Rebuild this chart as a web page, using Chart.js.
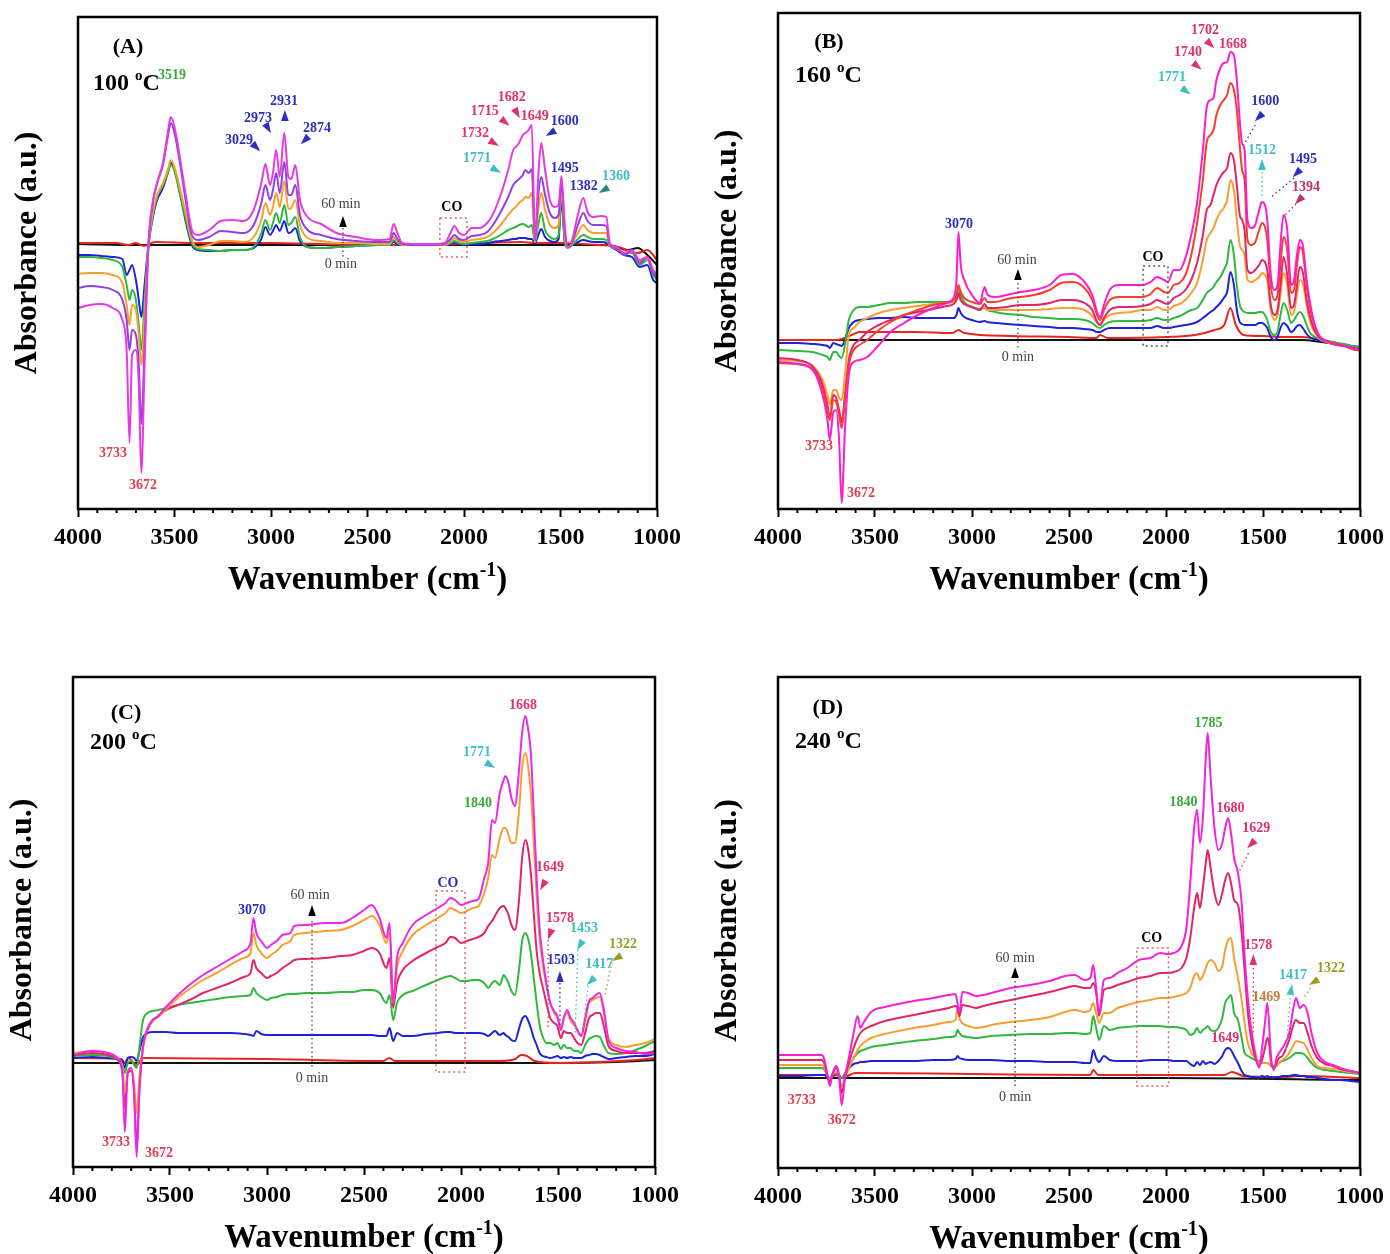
<!DOCTYPE html>
<html>
<head>
<meta charset="utf-8">
<script src="https://cdn.jsdelivr.net/npm/chart.js@4.4.1/dist/chart.umd.min.js"></script>
<style>
  html, body { margin: 0; padding: 0; background: #fff; }
  #wrap { position: relative; width: 1390px; height: 1254px; }
  canvas { position: absolute; }
</style>
</head>
<body>
<div id="wrap">
  <canvas id="cA" width="695" height="627" style="left:0;top:0"></canvas>
  <canvas id="cB" width="695" height="627" style="left:695px;top:0"></canvas>
  <canvas id="cC" width="695" height="627" style="left:0;top:627px"></canvas>
  <canvas id="cD" width="695" height="627" style="left:695px;top:627px"></canvas>
</div>
<script>
// ---------- panel A : 100 C ----------
const wnA = [4000,3940,3880,3820,3770,3748,3733,3720,3700,3685,
  3672,3655,3635,3610,3590,3560,3535,3519,3500,3470,
  3440,3410,3380,3320,3260,3200,3140,3090,3050,3029,
  3005,2990,2973,2955,2931,2910,2895,2874,2850,2810,
  2740,2660,2560,2450,2385,2365,2345,2320,2250,2150,
  2100,2070,2050,2025,2000,1960,1920,1880,1850,1810,
  1771,1745,1732,1715,1695,1682,1665,1649,1632,1615,
  1600,1580,1555,1530,1510,1495,1478,1462,1440,1410,
  1382,1360,1330,1290,1262,1245,1210,1170,1130,1090,
  1050,1020,1000];
const magentaA = [-0.63,-0.60,-0.59,-0.63,-0.75,-1.05,-1.98,-1.10,-1.05,-1.40,
  -2.28,-1.20,0.00,0.45,0.62,0.82,1.12,1.28,1.18,0.85,
  0.48,0.15,0.10,0.15,0.24,0.25,0.24,0.35,0.62,0.81,
  0.60,0.72,0.95,0.68,1.12,0.68,0.66,0.80,0.45,0.28,
  0.21,0.12,0.08,0.05,0.06,0.21,0.12,0.02,0.01,0.01,
  0.02,0.12,0.19,0.12,0.10,0.17,0.17,0.22,0.31,0.50,
  0.75,0.95,0.98,1.02,1.10,1.12,1.15,1.20,0.05,0.70,
  1.02,0.75,0.45,0.38,0.40,0.69,0.20,-0.02,0.05,0.30,
  0.47,0.33,0.28,0.29,0.28,0.02,-0.02,-0.08,-0.05,-0.15,
  -0.12,-0.25,-0.30];
const purpleA = [-0.43,-0.41,-0.42,-0.45,-0.55,-0.75,-1.05,-0.85,-0.90,-1.20,
  -1.79,-1.00,0.00,0.45,0.62,0.80,1.08,1.22,1.12,0.80,
  0.42,0.10,0.05,0.08,0.14,0.13,0.12,0.20,0.42,0.60,
  0.45,0.55,0.72,0.52,0.83,0.50,0.50,0.60,0.30,0.15,
  0.10,0.06,0.04,0.03,0.03,0.12,0.06,0.01,0.00,0.00,
  0.01,0.06,0.10,0.06,0.05,0.09,0.10,0.13,0.20,0.33,
  0.48,0.60,0.63,0.66,0.70,0.75,0.72,0.76,0.05,0.50,
  0.68,0.50,0.32,0.27,0.30,0.62,0.15,-0.02,0.03,0.20,
  0.32,0.24,0.20,0.20,0.19,0.00,-0.03,-0.10,-0.06,-0.18,
  -0.12,-0.28,-0.32];
const orangeA = [-0.29,-0.28,-0.28,-0.30,-0.38,-0.60,-0.80,-0.60,-0.65,-0.90,
  -1.20,-0.70,0.00,0.35,0.50,0.62,0.75,0.85,0.78,0.55,
  0.30,0.05,-0.02,0.00,0.04,0.04,0.03,0.08,0.25,0.42,
  0.30,0.38,0.52,0.38,0.64,0.36,0.37,0.45,0.20,0.07,
  0.04,0.02,0.02,0.01,0.01,0.08,0.04,0.00,0.00,0.00,
  0.00,0.04,0.07,0.04,0.03,0.05,0.06,0.08,0.12,0.20,
  0.30,0.36,0.38,0.42,0.45,0.48,0.47,0.52,0.03,0.35,
  0.52,0.35,0.20,0.17,0.20,0.55,0.10,-0.03,0.02,0.12,
  0.20,0.15,0.12,0.12,0.12,-0.01,-0.03,-0.09,-0.07,-0.16,
  -0.14,-0.26,-0.30];
const greenA = [-0.12,-0.12,-0.13,-0.15,-0.22,-0.40,-0.55,-0.45,-0.55,-0.80,
  -1.05,-0.55,0.00,0.32,0.48,0.60,0.72,0.80,0.74,0.50,
  0.25,0.02,-0.04,-0.05,-0.06,-0.05,-0.05,-0.02,0.12,0.25,
  0.15,0.22,0.32,0.22,0.40,0.20,0.22,0.28,0.08,-0.02,
  -0.03,-0.02,-0.01,0.00,0.00,0.05,0.02,0.00,0.00,0.00,
  0.00,0.02,0.04,0.02,0.01,0.02,0.03,0.04,0.06,0.10,
  0.15,0.17,0.18,0.20,0.21,0.20,0.18,0.20,0.03,0.20,
  0.32,0.15,0.08,0.06,0.10,0.55,0.05,-0.03,0.00,0.06,
  0.10,0.08,0.06,0.06,0.05,-0.01,-0.04,-0.08,-0.08,-0.20,
  -0.15,-0.30,-0.35];
const blueA = [-0.10,-0.10,-0.11,-0.12,-0.14,-0.30,-0.25,-0.20,-0.35,-0.55,
  -0.72,-0.40,0.00,0.30,0.45,0.57,0.72,0.82,0.75,0.50,
  0.22,0.00,-0.05,-0.06,-0.06,-0.05,-0.05,-0.03,0.06,0.18,
  0.10,0.14,0.20,0.14,0.24,0.12,0.13,0.17,0.04,-0.02,
  -0.03,-0.02,-0.01,0.00,0.00,0.03,0.01,0.00,0.00,0.00,
  0.00,0.01,0.02,0.01,0.00,0.01,0.01,0.02,0.03,0.04,
  0.05,0.06,0.06,0.07,0.07,0.07,0.06,0.06,0.02,0.10,
  0.16,0.08,0.04,0.03,0.06,0.45,0.03,-0.02,0.00,0.03,
  0.05,0.04,0.03,0.03,0.02,-0.01,-0.05,-0.10,-0.12,-0.22,
  -0.20,-0.35,-0.38];
const wnRedA = [4000,3800,3740,3700,3660,3600,3400,3000,2500,2000,1700,1640,1500,1300,1200,1100,1050,1000];
const redA = [0.02,0.02,0.00,0.02,-0.01,0.03,0.02,0.02,0.00,0.01,0.03,0.02,0.02,0.00,-0.02,-0.08,-0.05,-0.15];
const wnBlackA = [4000,3700,3500,3000,2500,2000,1500,1250,1150,1100,1050,1000];
const blackA = [0.01,0.00,0.00,0.00,0.00,0.00,0.00,0.00,-0.05,-0.03,-0.10,-0.20];

// ---------- panel B : 160 C ----------
const wnB = [4000,3900,3820,3770,3745,3733,3715,3700,3685,3672,
  3655,3635,3610,3580,3540,3480,3420,3350,3280,3200,
  3130,3095,3080,3070,3058,3040,3000,2960,2935,2920,
  2880,2820,2750,2680,2600,2540,2480,2420,2380,2355,
  2340,2320,2290,2240,2180,2120,2080,2046,2010,1990,
  1960,1930,1900,1870,1840,1810,1790,1771,1755,1740,
  1720,1702,1685,1668,1650,1635,1620,1608,1595,1580,
  1560,1540,1520,1505,1490,1478,1460,1440,1425,1410,
  1394,1375,1355,1340,1325,1310,1295,1275,1260,1240,
  1220,1200,1160,1120,1080,1040,1000];
const magentaB = [-0.22,-0.24,-0.30,-0.55,-0.80,-1.00,-0.72,-0.70,-1.00,-1.63,
  -0.90,-0.35,-0.22,-0.20,-0.17,-0.05,0.08,0.17,0.25,0.32,
  0.37,0.42,0.60,1.08,0.75,0.60,0.45,0.37,0.53,0.45,
  0.43,0.45,0.48,0.50,0.55,0.65,0.66,0.58,0.45,0.28,
  0.23,0.35,0.50,0.55,0.55,0.55,0.58,0.63,0.60,0.58,
  0.70,0.70,0.82,1.05,1.37,1.90,2.33,2.40,2.42,2.60,
  2.72,2.77,2.78,2.88,2.85,2.60,2.20,1.97,1.90,1.20,
  1.12,1.15,1.30,1.38,1.35,1.20,0.65,0.50,0.55,0.95,
  1.25,1.10,0.55,0.60,0.85,1.00,0.95,0.60,0.40,0.20,
  0.08,0.02,-0.02,-0.05,-0.06,-0.08,-0.10];
const oredB = [-0.23,-0.24,-0.30,-0.50,-0.70,-0.80,-0.60,-0.62,-0.75,-0.88,
  -0.60,-0.25,-0.10,-0.05,0.00,0.10,0.18,0.25,0.30,0.35,
  0.38,0.40,0.45,0.55,0.48,0.42,0.38,0.36,0.42,0.38,
  0.38,0.41,0.43,0.45,0.50,0.57,0.58,0.52,0.40,0.25,
  0.20,0.30,0.40,0.43,0.43,0.43,0.46,0.52,0.48,0.47,
  0.55,0.57,0.65,0.85,1.17,1.60,1.98,2.05,2.10,2.25,
  2.35,2.40,2.45,2.57,2.50,2.30,1.95,1.70,1.60,1.00,
  0.95,0.98,1.10,1.17,1.13,1.00,0.55,0.40,0.45,0.75,
  1.03,0.90,0.47,0.50,0.75,0.93,0.88,0.55,0.35,0.18,
  0.07,0.02,-0.02,-0.05,-0.06,-0.09,-0.11];
const crimsonB = [-0.18,-0.20,-0.27,-0.45,-0.65,-0.78,-0.55,-0.58,-0.70,-0.82,
  -0.55,-0.20,-0.05,0.00,0.08,0.15,0.20,0.25,0.28,0.31,
  0.34,0.36,0.40,0.47,0.40,0.36,0.33,0.30,0.36,0.32,
  0.32,0.33,0.35,0.35,0.37,0.40,0.40,0.37,0.30,0.18,
  0.15,0.22,0.30,0.33,0.33,0.34,0.36,0.40,0.37,0.36,
  0.42,0.45,0.50,0.60,0.77,1.05,1.30,1.35,1.45,1.55,
  1.63,1.68,1.72,1.87,1.80,1.55,1.25,1.20,1.10,0.70,
  0.67,0.70,0.75,0.80,0.78,0.70,0.35,0.25,0.30,0.55,
  0.83,0.65,0.32,0.35,0.55,0.73,0.68,0.40,0.25,0.12,
  0.05,0.01,-0.02,-0.04,-0.06,-0.08,-0.10];
const orangeB = [-0.20,-0.21,-0.26,-0.40,-0.55,-0.65,-0.50,-0.50,-0.58,-0.60,
  -0.35,0.05,0.12,0.18,0.22,0.27,0.30,0.32,0.34,0.36,
  0.37,0.38,0.40,0.44,0.40,0.36,0.33,0.30,0.33,0.30,
  0.30,0.30,0.30,0.30,0.31,0.32,0.32,0.30,0.24,0.17,
  0.15,0.20,0.25,0.27,0.28,0.30,0.30,0.33,0.30,0.30,
  0.34,0.36,0.40,0.47,0.57,0.80,1.00,1.07,1.12,1.20,
  1.28,1.32,1.40,1.60,1.50,1.20,0.95,0.90,0.85,0.60,
  0.58,0.60,0.63,0.67,0.65,0.60,0.30,0.20,0.25,0.45,
  0.67,0.55,0.25,0.28,0.45,0.60,0.57,0.35,0.20,0.10,
  0.04,0.00,-0.03,-0.04,-0.06,-0.09,-0.10];
const greenB = [-0.10,-0.11,-0.12,-0.15,-0.17,-0.20,-0.12,-0.12,-0.16,-0.18,
  -0.05,0.20,0.30,0.33,0.33,0.35,0.37,0.37,0.38,0.38,
  0.38,0.39,0.43,0.52,0.45,0.38,0.33,0.31,0.32,0.30,
  0.28,0.26,0.25,0.23,0.22,0.21,0.21,0.20,0.17,0.13,
  0.12,0.15,0.18,0.19,0.19,0.19,0.20,0.22,0.20,0.20,
  0.22,0.24,0.27,0.30,0.32,0.40,0.47,0.50,0.53,0.58,
  0.63,0.70,0.78,1.00,0.85,0.55,0.35,0.30,0.28,0.27,
  0.27,0.27,0.28,0.28,0.25,0.20,0.08,0.05,0.08,0.25,
  0.37,0.30,0.17,0.20,0.25,0.28,0.25,0.15,0.08,0.04,
  0.02,0.00,-0.01,-0.03,-0.04,-0.06,-0.08];
const blueB = [-0.03,-0.03,-0.04,-0.05,-0.06,-0.08,-0.03,-0.04,-0.05,-0.06,
  0.00,0.12,0.18,0.20,0.21,0.22,0.22,0.23,0.22,0.22,
  0.22,0.22,0.25,0.32,0.27,0.23,0.20,0.18,0.19,0.18,
  0.17,0.16,0.15,0.14,0.13,0.12,0.12,0.11,0.10,0.08,
  0.08,0.10,0.12,0.12,0.12,0.12,0.12,0.14,0.12,0.12,
  0.13,0.14,0.15,0.16,0.18,0.22,0.25,0.28,0.30,0.33,
  0.37,0.42,0.48,0.68,0.55,0.30,0.18,0.16,0.15,0.15,
  0.15,0.15,0.17,0.17,0.15,0.12,0.03,0.00,0.03,0.12,
  0.17,0.14,0.08,0.10,0.14,0.15,0.12,0.06,0.03,0.01,
  0.00,-0.01,-0.02,-0.03,-0.05,-0.06,-0.07];
const wnRedB = [4000,3700,3620,3580,3300,3100,3070,3040,2800,2500,2360,2340,2300,2000,1850,1750,1700,1668,1640,1600,1500,1400,1300,1200,1100,1000];
const redB = [0.00,0.00,0.05,0.08,0.08,0.07,0.10,0.07,0.04,0.03,0.02,0.05,0.02,0.03,0.05,0.10,0.15,0.32,0.15,0.05,0.04,0.03,0.03,0.00,-0.05,-0.08];
const wnBlackB = [4000,3000,2000,1300,1200,1100,1000];
const blackB = [0.00,0.00,0.00,0.00,-0.02,-0.05,-0.08];

// ---------- panel C : 200 C ----------
const wnC = [4000,3900,3820,3770,3745,3733,3718,3700,3685,3672,
  3658,3640,3615,3590,3560,3520,3460,3400,3330,3260,
  3190,3120,3085,3070,3055,3030,3000,2980,2950,2920,
  2880,2860,2800,2700,2620,2560,2500,2460,2420,2385,
  2368,2350,2330,2300,2250,2180,2120,2080,2055,2030,
  2000,1970,1940,1910,1880,1860,1840,1825,1800,1780,
  1771,1755,1740,1722,1700,1685,1668,1655,1640,1625,
  1610,1595,1580,1560,1540,1520,1503,1485,1470,1453,
  1435,1417,1400,1380,1360,1340,1322,1305,1285,1265,
  1240,1200,1150,1100,1050,1000];
const magentaC = [0.08,0.12,0.10,0.05,-0.10,-0.69,-0.10,-0.05,-0.30,-0.94,
  -0.30,0.15,0.35,0.43,0.47,0.56,0.68,0.78,0.88,0.96,
  1.04,1.12,1.20,1.45,1.30,1.22,1.15,1.18,1.22,1.28,
  1.30,1.37,1.38,1.40,1.40,1.45,1.53,1.58,1.45,1.25,
  1.40,0.60,1.05,1.20,1.38,1.48,1.55,1.60,1.65,1.63,
  1.58,1.60,1.62,1.64,1.85,2.00,2.43,2.40,2.70,2.83,
  2.87,2.80,2.65,2.57,2.95,3.30,3.47,3.35,3.10,2.50,
  1.85,1.35,1.07,0.80,0.60,0.52,0.47,0.33,0.45,0.53,
  0.45,0.40,0.33,0.27,0.45,0.62,0.65,0.68,0.70,0.55,
  0.23,0.15,0.12,0.11,0.09,0.10];
const orangeC = [0.10,0.12,0.10,0.05,-0.05,-0.30,-0.08,-0.05,-0.20,-0.50,
  -0.15,0.15,0.35,0.42,0.46,0.54,0.65,0.74,0.83,0.90,
  0.98,1.05,1.10,1.30,1.18,1.10,1.05,1.08,1.12,1.18,
  1.22,1.28,1.30,1.32,1.33,1.37,1.43,1.47,1.38,1.20,
  1.30,0.60,0.95,1.12,1.28,1.38,1.45,1.50,1.55,1.53,
  1.50,1.52,1.55,1.57,1.70,1.85,2.08,2.05,2.25,2.35,
  2.35,2.28,2.20,2.20,2.55,2.95,3.10,2.98,2.70,2.20,
  1.67,1.25,1.00,0.78,0.60,0.50,0.45,0.33,0.45,0.50,
  0.42,0.38,0.32,0.27,0.42,0.60,0.63,0.65,0.66,0.52,
  0.25,0.18,0.16,0.18,0.20,0.24];
const crimsonC = [0.08,0.10,0.08,0.03,-0.10,-0.45,-0.10,-0.08,-0.30,-0.85,
  -0.25,0.15,0.33,0.42,0.47,0.53,0.58,0.63,0.70,0.75,
  0.80,0.86,0.90,1.03,0.95,0.90,0.85,0.87,0.90,0.95,
  1.00,1.03,1.04,1.05,1.07,1.08,1.12,1.15,1.10,0.95,
  1.05,0.55,0.80,0.93,1.02,1.10,1.16,1.20,1.26,1.25,
  1.20,1.22,1.24,1.26,1.30,1.37,1.42,1.47,1.55,1.57,
  1.55,1.48,1.38,1.33,1.65,2.05,2.23,2.15,1.90,1.50,
  1.12,0.90,0.77,0.60,0.45,0.40,0.37,0.25,0.32,0.30,
  0.30,0.25,0.20,0.18,0.30,0.45,0.48,0.50,0.50,0.38,
  0.17,0.12,0.10,0.10,0.10,0.12];
const greenC = [0.07,0.08,0.07,0.03,-0.02,-0.10,0.00,0.02,-0.02,-0.05,
  0.15,0.42,0.50,0.52,0.53,0.55,0.58,0.60,0.62,0.64,
  0.66,0.67,0.68,0.75,0.70,0.66,0.63,0.65,0.66,0.68,
  0.69,0.69,0.70,0.70,0.71,0.71,0.73,0.73,0.70,0.60,
  0.68,0.43,0.60,0.68,0.72,0.78,0.83,0.86,0.87,0.85,
  0.82,0.82,0.83,0.83,0.80,0.75,0.80,0.82,0.78,0.88,
  0.86,0.80,0.72,0.68,0.95,1.22,1.30,1.25,1.10,0.85,
  0.60,0.38,0.27,0.20,0.20,0.18,0.20,0.14,0.18,0.15,
  0.15,0.12,0.12,0.10,0.18,0.24,0.26,0.27,0.26,0.18,
  0.10,0.09,0.10,0.13,0.17,0.22];
const blueC = [0.05,0.06,0.05,0.04,0.02,-0.05,0.05,0.06,0.05,0.02,
  0.12,0.25,0.30,0.31,0.31,0.31,0.30,0.30,0.30,0.30,
  0.30,0.29,0.28,0.27,0.32,0.29,0.28,0.28,0.28,0.28,
  0.28,0.28,0.28,0.28,0.28,0.28,0.28,0.28,0.27,0.27,
  0.35,0.22,0.30,0.27,0.27,0.29,0.30,0.31,0.31,0.30,
  0.30,0.30,0.30,0.30,0.29,0.27,0.30,0.32,0.28,0.30,
  0.28,0.26,0.23,0.22,0.35,0.44,0.47,0.43,0.35,0.25,
  0.18,0.10,0.07,0.06,0.05,0.06,0.07,0.05,0.06,0.05,
  0.06,0.05,0.05,0.05,0.07,0.08,0.09,0.09,0.08,0.06,
  0.04,0.05,0.06,0.07,0.07,0.09];
const wnRedC = [4000,3750,3733,3715,3672,3640,3000,2400,2370,2340,2000,1800,1720,1690,1660,1620,1500,1300,1100,1000];
const redC = [0.05,0.04,0.00,0.05,-0.02,0.05,0.04,0.02,0.05,0.02,0.02,0.02,0.04,0.08,0.07,0.02,0.00,0.01,0.03,0.05];
const wnBlackC = [4000,3000,2000,1500,1200,1000];
const blackC = [0.00,0.00,0.00,0.00,0.01,0.03];

// ---------- panel D : 240 C ----------
const wnD = [4000,3900,3800,3775,3760,3745,3733,3718,3700,3685,
  3672,3655,3635,3610,3590,3575,3560,3520,3450,3380,
  3300,3200,3120,3085,3075,3065,3050,3020,2980,2940,
  2900,2800,2700,2600,2520,2470,2420,2390,2375,2360,
  2345,2320,2290,2250,2200,2140,2080,2030,1990,1960,
  1920,1895,1875,1855,1840,1825,1810,1795,1785,1770,
  1750,1730,1710,1695,1680,1665,1649,1629,1610,1595,
  1578,1560,1540,1520,1505,1490,1478,1469,1460,1445,
  1430,1417,1400,1385,1365,1345,1330,1310,1290,1270,
  1250,1220,1180,1140,1100,1050,1000];
const magentaD = [0.23,0.23,0.23,0.23,0.18,0.03,-0.08,0.05,0.12,0.02,
  -0.27,0.00,0.20,0.45,0.62,0.50,0.55,0.66,0.71,0.74,
  0.77,0.80,0.83,0.84,0.75,0.65,0.86,0.85,0.82,0.83,
  0.85,0.90,0.93,0.97,1.02,1.03,0.98,1.00,1.13,0.90,
  0.65,0.98,1.00,1.05,1.10,1.18,1.20,1.25,1.24,1.25,
  1.32,1.50,1.95,2.50,2.68,2.35,2.60,3.20,3.45,3.00,
  2.50,2.28,2.35,2.50,2.60,2.45,2.20,2.05,1.75,1.22,
  0.80,0.48,0.25,0.10,0.30,0.55,0.75,0.55,0.25,0.08,
  0.20,0.25,0.30,0.35,0.45,0.68,0.80,0.70,0.73,0.65,
  0.45,0.25,0.16,0.13,0.10,0.07,0.05];
const crimsonD = [0.18,0.18,0.18,0.18,0.14,0.02,-0.04,0.04,0.10,0.02,
  -0.15,0.00,0.15,0.30,0.40,0.45,0.48,0.52,0.57,0.60,
  0.63,0.67,0.70,0.72,0.70,0.62,0.73,0.72,0.70,0.72,
  0.74,0.78,0.82,0.86,0.90,0.92,0.90,0.90,0.95,0.85,
  0.62,0.88,0.90,0.93,0.96,1.00,1.02,1.05,1.05,1.06,
  1.10,1.20,1.40,1.70,1.85,1.70,1.90,2.15,2.28,2.10,
  1.85,1.73,1.85,1.98,2.05,1.95,1.78,1.73,1.45,1.08,
  0.65,0.38,0.20,0.12,0.18,0.30,0.40,0.35,0.18,0.10,
  0.15,0.20,0.22,0.28,0.38,0.52,0.58,0.55,0.55,0.45,
  0.32,0.20,0.14,0.12,0.09,0.07,0.05];
const orangeD = [0.13,0.13,0.13,0.13,0.10,0.02,-0.02,0.03,0.06,0.02,
  -0.08,0.00,0.10,0.20,0.28,0.32,0.35,0.40,0.44,0.47,
  0.50,0.53,0.56,0.58,0.70,0.60,0.55,0.52,0.50,0.51,
  0.53,0.56,0.58,0.61,0.66,0.68,0.66,0.68,0.75,0.65,
  0.55,0.65,0.65,0.70,0.73,0.76,0.78,0.80,0.80,0.81,
  0.83,0.85,0.90,1.02,1.05,0.98,1.02,1.10,1.15,1.18,
  1.15,1.07,1.12,1.28,1.38,1.40,1.20,1.00,0.78,0.55,
  0.35,0.25,0.20,0.15,0.15,0.15,0.15,0.14,0.12,0.10,
  0.12,0.15,0.18,0.20,0.25,0.32,0.37,0.36,0.35,0.28,
  0.20,0.12,0.10,0.09,0.08,0.06,0.05];
const greenD = [0.10,0.10,0.10,0.10,0.08,0.02,0.00,0.03,0.05,0.02,
  0.00,0.05,0.12,0.20,0.25,0.27,0.28,0.31,0.33,0.35,
  0.37,0.39,0.41,0.42,0.48,0.45,0.42,0.41,0.40,0.41,
  0.42,0.43,0.44,0.44,0.45,0.45,0.44,0.45,0.62,0.50,
  0.38,0.52,0.48,0.50,0.51,0.52,0.52,0.52,0.51,0.51,
  0.50,0.48,0.43,0.45,0.50,0.45,0.48,0.50,0.52,0.48,
  0.47,0.50,0.60,0.75,0.80,0.83,0.65,0.58,0.40,0.25,
  0.22,0.20,0.18,0.17,0.15,0.15,0.15,0.14,0.13,0.12,
  0.13,0.15,0.17,0.18,0.20,0.23,0.25,0.25,0.24,0.20,
  0.15,0.10,0.08,0.07,0.06,0.05,0.04];
const blueD = [0.02,0.02,0.03,0.03,0.03,0.00,-0.02,0.02,0.04,0.03,
  0.00,0.04,0.10,0.14,0.15,0.16,0.16,0.17,0.17,0.17,
  0.17,0.18,0.18,0.19,0.22,0.20,0.19,0.18,0.18,0.18,
  0.18,0.17,0.17,0.16,0.16,0.16,0.15,0.15,0.28,0.20,
  0.16,0.22,0.18,0.17,0.17,0.17,0.18,0.18,0.18,0.17,
  0.17,0.17,0.14,0.12,0.16,0.13,0.17,0.14,0.15,0.16,
  0.14,0.17,0.22,0.28,0.30,0.28,0.22,0.15,0.07,0.03,
  0.02,0.01,0.01,0.00,0.02,0.01,0.02,0.01,0.01,0.00,
  0.01,0.01,0.02,0.02,0.02,0.03,0.03,0.02,0.02,0.01,
  0.01,0.00,-0.01,-0.02,-0.02,-0.03,-0.04];
const wnRedD = [4000,3750,3733,3700,3672,3600,3000,2390,2375,2350,2000,1700,1660,1600,1400,1300,1000];
const redD = [0.03,0.03,0.00,0.03,0.00,0.05,0.04,0.03,0.08,0.03,0.03,0.03,0.06,0.02,0.01,0.02,0.00];
const wnBlackD = [4000,3000,2000,1000];
const blackD = [0.00,0.00,0.00,-0.02];

// ---------- colours ----------
const PURPLE = '#9040e4', ORANGE = '#f5a030', GREEN = '#30b840', BLUE = '#1e22dc',
  RED = '#e8251f', CRIMSON = '#e42468', ORED = '#f4402c', BLACK = '#111';
const T_BLUE = '#2a2fc0', T_GREEN = '#3aa93a', T_CYAN = '#3cbfc4', T_PINK = '#e0306e',
  T_RED = '#e0404e', T_OLIVE = '#9c9c22', T_BROWN = '#b9823a', T_GRAY = '#444', T_TEAL = '#2a8a80';
const FONT = "'Liberation Serif', 'Times New Roman', serif";

function ds(xs, ys, color) {
  return { data: xs.map((x, i) => ({ x: x, y: ys[i] })), borderColor: color, borderWidth: 2,
    pointRadius: 0, fill: false, cubicInterpolationMode: 'monotone' };
}

// text with superscript pieces: parts = [[text, isSup], ...]
function drawParts(ctx, parts, x, y, size, align) {
  const fonts = parts.map(p => 'bold ' + (p[1] ? Math.round(size * 0.62) : size) + 'px ' + FONT);
  let total = 0;
  parts.forEach((p, i) => { ctx.font = fonts[i]; total += ctx.measureText(p[0]).width; });
  let cx = align === 'left' ? x : x - total / 2;
  ctx.textAlign = 'left';
  ctx.textBaseline = 'alphabetic';
  parts.forEach((p, i) => {
    ctx.font = fonts[i];
    ctx.fillText(p[0], cx, p[1] ? y - size * 0.4 : y);
    cx += ctx.measureText(p[0]).width;
  });
}

function decor(spec) {
  return {
    id: 'decor',
    afterDatasetsDraw(chart) {
      const ctx = chart.ctx, a = chart.chartArea, xs = chart.scales.x, ys = chart.scales.y;
      const X = v => xs.getPixelForValue(v), Y = v => ys.getPixelForValue(v);
      ctx.save();
      // dotted leaders
      ctx.setLineDash([1.5, 3]);
      ctx.lineWidth = 1.3;
      spec.dots.forEach(d => {
        ctx.strokeStyle = d[4];
        ctx.beginPath(); ctx.moveTo(X(d[0]), Y(d[1])); ctx.lineTo(X(d[2]), Y(d[3])); ctx.stroke();
      });
      spec.rects.forEach(r => {
        ctx.strokeStyle = r[4];
        ctx.lineWidth = 1.4;
        ctx.setLineDash([2, 3]);
        ctx.strokeRect(X(r[0]), Y(r[1]), X(r[2]) - X(r[0]), Y(r[3]) - Y(r[1]));
      });
      ctx.setLineDash([]);
      // frame
      ctx.strokeStyle = '#000';
      ctx.lineWidth = 2.5;
      ctx.strokeRect(a.left, a.top, a.right - a.left, a.bottom - a.top);
      // minor ticks
      ctx.lineWidth = 2;
      for (let w = 1100; w < 4000; w += 100) {
        if (w % 500 === 0) continue;
        const px = X(w);
        ctx.beginPath(); ctx.moveTo(px, a.bottom); ctx.lineTo(px, a.bottom + 4); ctx.stroke();
      }
      // arrows
      spec.arrows.forEach(r => {
        ctx.save();
        ctx.translate(X(r[0]), Y(r[1]));
        ctx.rotate(r[2] * Math.PI / 180);
        ctx.fillStyle = r[3];
        ctx.beginPath(); ctx.moveTo(6, 0); ctx.lineTo(-5, -3.8); ctx.lineTo(-5, 3.8); ctx.closePath(); ctx.fill();
        ctx.restore();
      });
      // peak labels
      ctx.textAlign = 'center';
      ctx.textBaseline = 'middle';
      spec.labels.forEach(l => {
        ctx.fillStyle = l[3];
        ctx.font = (l[4] === 'n' ? '' : 'bold ') + '14px ' + FONT;
        ctx.fillText(l[0], X(l[1]), Y(l[2]));
      });
      // panel tag and temperature
      ctx.fillStyle = '#000';
      ctx.font = 'bold 22px ' + FONT;
      ctx.fillText(spec.tag[0], X(spec.tag[1]), Y(spec.tag[2]));
      drawParts(ctx, [[spec.temp[0] + ' ', false], ['o', true], ['C', false]], X(spec.temp[1]), Y(spec.temp[2]) + 8, 24, 'left');
      // axis titles
      drawParts(ctx, [['Wavenumber (cm', false], ['-1', true], [')', false]], (a.left + a.right) / 2, a.bottom + 80, 33, 'center');
      ctx.save();
      ctx.translate(a.left - 50, (a.top + a.bottom) / 2 + spec.titleDy);
      ctx.rotate(-Math.PI / 2);
      ctx.font = 'bold 32px ' + FONT;
      ctx.textAlign = 'center';
      ctx.textBaseline = 'middle';
      ctx.fillText('Absorbance (a.u.)', 0, 0);
      ctx.restore();
      ctx.restore();
    }
  };
}

function makeChart(id, spec) {
  return new Chart(document.getElementById(id), {
    type: 'line',
    data: { datasets: spec.datasets },
    options: {
      responsive: false,
      animation: false,
      layout: { padding: { left: spec.area[0], top: spec.area[1], right: 695 - spec.area[2], bottom: 0 } },
      plugins: { legend: { display: false }, tooltip: { enabled: false } },
      scales: {
        x: {
          type: 'linear', reverse: true, min: 1000, max: 4000,
          afterFit: s => { s.height = 627 - spec.area[3]; },
          border: { display: false },
          grid: { drawOnChartArea: false, tickLength: 8, tickWidth: 2, tickColor: '#000' },
          ticks: { stepSize: 500, autoSkip: false, maxRotation: 0, color: '#000', padding: 6,
            callback: v => String(v), font: { family: FONT, size: 24, weight: 'bold' } }
        },
        y: { display: false, min: spec.yRange[0], max: spec.yRange[1] }
      }
    },
    plugins: [decor(spec)]
  });
}

makeChart('cA', {
  area: [78, 17, 657, 509], yRange: [-2.64, 2.28], titleDy: -10,
  datasets: [ds(wnA, magentaA, '#e43ce0'), ds(wnA, purpleA, PURPLE), ds(wnA, orangeA, ORANGE),
    ds(wnA, greenA, GREEN), ds(wnA, blueA, BLUE), ds(wnRedA, redA, RED), ds(wnBlackA, blackA, BLACK)],
  tag: ['(A)', 3741, 1.98], temp: ['100', 3922, 1.63],
  labels: [['3519', 3513, 1.70, T_GREEN], ['3029', 3166, 1.05, T_BLUE], ['2973', 3068, 1.27, T_BLUE],
    ['2931', 2933, 1.44, T_BLUE], ['2874', 2762, 1.17, T_BLUE], ['60 min', 2638, 0.41, T_GRAY, 'n'],
    ['0 min', 2638, -0.19, T_GRAY, 'n'], ['CO', 2063, 0.38, '#000'], ['1771', 1933, 0.87, T_CYAN],
    ['1732', 1943, 1.12, T_PINK], ['1715', 1892, 1.34, T_PINK], ['1682', 1752, 1.48, T_PINK],
    ['1649', 1633, 1.29, T_PINK], ['1600', 1478, 1.24, T_BLUE], ['1495', 1478, 0.77, T_BLUE],
    ['1382', 1379, 0.59, T_BLUE], ['1360', 1213, 0.69, T_CYAN], ['3733', 3819, -2.08, T_RED],
    ['3672', 3663, -2.40, T_RED]],
  arrows: [[3078, 0.98, 45, T_BLUE], [3016, 1.17, 60, T_BLUE], [2928, 1.29, -90, T_BLUE],
    [2824, 1.05, 135, T_BLUE], [2627, 0.23, -90, '#000'], [1835, 0.75, 30, T_CYAN],
    [1845, 1.02, 30, T_PINK], [1788, 1.23, 40, T_PINK], [1726, 1.32, 60, T_PINK],
    [1550, 1.12, 150, T_BLUE], [1275, 0.55, 150, T_TEAL]],
  dots: [[2627, 0.17, 2627, -0.12, T_GRAY]],
  rects: [[2125, 0.27, 1985, -0.12, '#e06060']]
});

makeChart('cB', {
  area: [83, 13, 665, 509], yRange: [-1.69, 3.27], titleDy: -10,
  datasets: [ds(wnB, magentaB, '#ff1ccf'), ds(wnB, oredB, ORED), ds(wnB, crimsonB, CRIMSON),
    ds(wnB, orangeB, ORANGE), ds(wnB, greenB, GREEN), ds(wnB, blueB, BLUE),
    ds(wnRedB, redB, RED), ds(wnBlackB, blackB, BLACK)],
  tag: ['(B)', 3737, 2.98], temp: ['160', 3912, 2.66],
  labels: [['3070', 3067, 1.16, T_BLUE], ['60 min', 2768, 0.80, T_GRAY, 'n'], ['0 min', 2763, -0.17, T_GRAY, 'n'],
    ['CO', 2067, 0.83, '#000'], ['1702', 1799, 3.10, T_PINK], ['1668', 1655, 2.96, T_PINK],
    ['1740', 1886, 2.88, T_PINK], ['1771', 1969, 2.63, T_CYAN], ['1600', 1489, 2.39, T_BLUE],
    ['1512', 1505, 1.90, T_CYAN], ['1495', 1294, 1.81, T_BLUE], ['1394', 1278, 1.53, '#c0306a'],
    ['3733', 3789, -1.06, T_RED], ['3672', 3572, -1.53, T_RED]],
  arrows: [[1773, 2.96, 45, T_PINK], [1840, 2.74, 40, T_PINK], [1897, 2.49, 35, T_CYAN],
    [1520, 2.23, 135, T_BLUE], [1505, 1.75, -90, T_CYAN], [1325, 1.67, 135, T_BLUE],
    [1314, 1.40, 135, '#c0306a'], [2763, 0.65, -90, '#000']],
  dots: [[2763, 0.57, 2763, -0.10, T_GRAY], [1540, 2.15, 1600, 1.95, T_BLUE], [1505, 1.68, 1505, 1.42, T_CYAN],
    [1340, 1.62, 1464, 1.42, T_BLUE], [1330, 1.36, 1386, 1.25, '#c0306a']],
  rects: [[2118, 0.74, 1990, -0.06, '#555']]
});

makeChart('cC', {
  area: [73, 50, 655, 540], yRange: [-1.04, 3.86], titleDy: -2,
  datasets: [ds(wnC, magentaC, '#ec28e6'), ds(wnC, orangeC, ORANGE), ds(wnC, crimsonC, CRIMSON),
    ds(wnC, greenC, GREEN), ds(wnC, blueC, BLUE), ds(wnRedC, redC, RED), ds(wnBlackC, blackC, BLACK)],
  tag: ['(C)', 3727, 3.50], temp: ['200', 3912, 3.22],
  labels: [['3070', 3077, 1.53, T_BLUE], ['60 min', 2778, 1.68, T_GRAY, 'n'], ['0 min', 2768, -0.15, T_GRAY, 'n'],
    ['CO', 2067, 1.80, T_BLUE], ['1668', 1680, 3.58, T_PINK], ['1771', 1917, 3.11, T_CYAN],
    ['1840', 1912, 2.60, T_GREEN], ['1649', 1541, 1.96, T_PINK], ['1578', 1490, 1.45, T_PINK],
    ['1453', 1366, 1.35, T_CYAN], ['1322', 1165, 1.19, T_OLIVE], ['1503', 1484, 1.03, T_BLUE],
    ['1417', 1288, 0.99, T_CYAN], ['3733', 3778, -0.79, T_RED], ['3672', 3557, -0.90, T_RED]],
  arrows: [[1850, 2.98, 30, T_CYAN], [1577, 1.78, 120, T_PINK], [1541, 1.29, 110, T_PINK],
    [1386, 1.18, 120, T_CYAN], [1196, 1.05, 150, T_OLIVE], [1490, 0.86, -90, T_BLUE],
    [1330, 0.82, 135, T_CYAN], [2768, 1.52, -90, '#000']],
  dots: [[2768, 1.42, 2768, -0.05, T_GRAY], [1551, 1.23, 1551, 0.33, T_PINK], [1490, 0.80, 1490, 0.38, T_BLUE],
    [1397, 1.13, 1412, 0.28, T_CYAN], [1345, 0.77, 1371, 0.33, T_CYAN], [1222, 1.01, 1258, 0.68, T_OLIVE]],
  rects: [[2129, 1.72, 1979, -0.09, '#e06060']]
});

makeChart('cD', {
  area: [83, 50, 667, 541], yRange: [-0.90, 4.01], titleDy: -2,
  datasets: [ds(wnD, magentaD, '#f522d8'), ds(wnD, crimsonD, CRIMSON), ds(wnD, orangeD, ORANGE),
    ds(wnD, greenD, GREEN), ds(wnD, blueD, BLUE), ds(wnRedD, redD, RED), ds(wnBlackD, blackD, BLACK)],
  tag: ['(D)', 3743, 3.70], temp: ['240', 3913, 3.38],
  labels: [['60 min', 2778, 1.20, T_GRAY, 'n'], ['0 min', 2778, -0.19, T_GRAY, 'n'], ['CO', 2074, 1.40, '#000'],
    ['1785', 1781, 3.55, T_GREEN], ['1840', 1910, 2.76, T_GREEN], ['1680', 1668, 2.70, T_PINK],
    ['1629', 1535, 2.50, T_PINK], ['1578', 1524, 1.33, T_PINK], ['1469', 1483, 0.81, T_BROWN],
    ['1417', 1345, 1.03, T_CYAN], ['1322', 1150, 1.10, T_OLIVE], ['1649', 1694, 0.40, T_PINK],
    ['3733', 3877, -0.22, T_RED], ['3672', 3671, -0.42, T_RED]],
  arrows: [[1560, 2.34, 135, T_PINK], [1550, 1.18, -90, T_PINK], [1355, 0.88, -80, T_CYAN],
    [1237, 0.96, 150, T_OLIVE], [2778, 1.05, -90, '#000']],
  dots: [[2778, 0.97, 2778, -0.08, T_GRAY], [1575, 2.25, 1627, 2.05, T_PINK], [1550, 1.10, 1550, 0.45, T_PINK],
    [1360, 0.80, 1381, 0.28, T_CYAN], [1255, 0.90, 1290, 0.80, T_OLIVE]],
  rects: [[2151, 1.30, 1987, -0.08, '#e06060']]
});
</script>
</body>
</html>
